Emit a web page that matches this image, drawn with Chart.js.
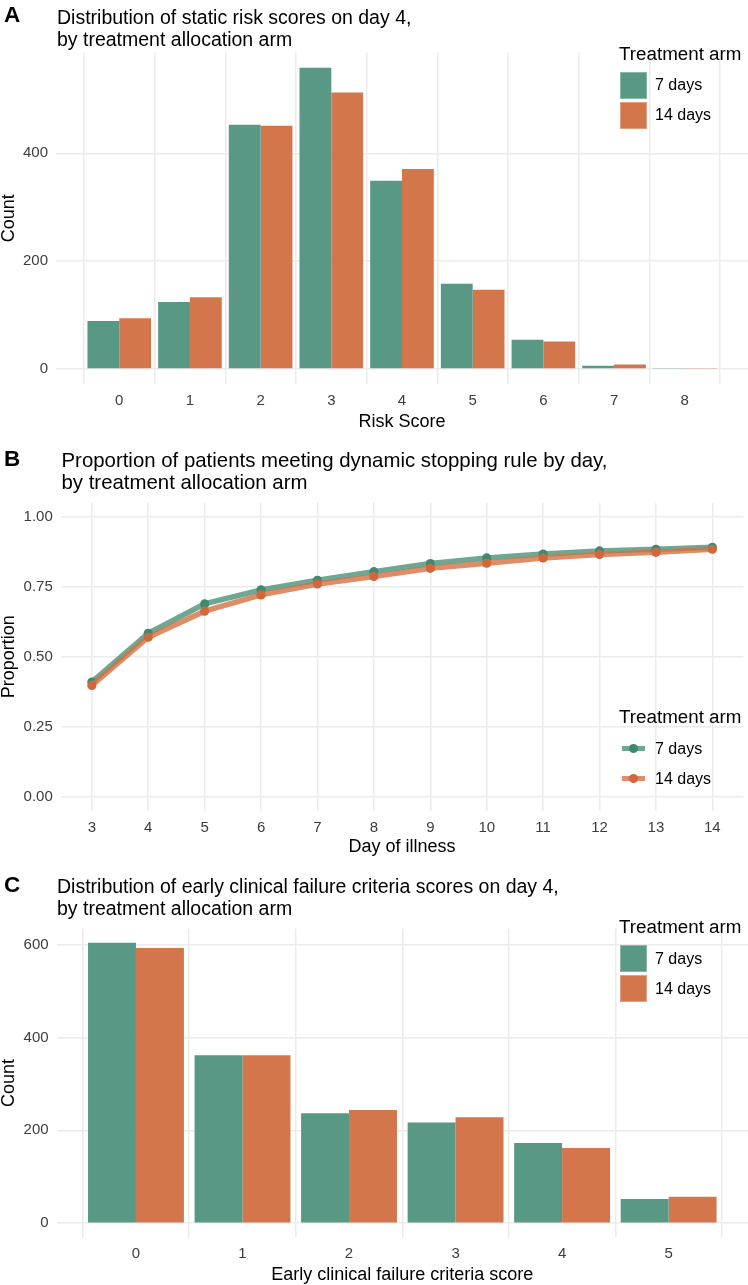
<!DOCTYPE html>
<html>
<head>
<meta charset="utf-8">
<script src="https://cdn.jsdelivr.net/npm/chart.js@4.4.1/dist/chart.umd.min.js"></script>
<style>
  html, body { margin: 0; padding: 0; background: #fff; }
  body { width: 748px; height: 1285px; position: relative; overflow: hidden;
         font-family: "Liberation Sans", Arial, sans-serif; color: #000; }
  .panel { position: absolute; left: 0; width: 748px; }
  .txt { position: absolute; white-space: nowrap; line-height: 1; }
  .letter { font-weight: bold; }
  .swatch { position: absolute; width: 27px; height: 27px; box-sizing: border-box; }
  .lkey { position: absolute; width: 23px; height: 5px; }
  .ldot { position: absolute; width: 9px; height: 9px; border-radius: 50%; }
</style>
</head>
<body>
<div class="panel" id="wrapA" style="top:0;height:440px"><canvas id="chartA"></canvas></div>
<div class="panel" id="wrapB" style="top:440px;height:420px"><canvas id="chartB"></canvas></div>
<div class="panel" id="wrapC" style="top:860px;height:425px"><canvas id="chartC"></canvas></div>
<div id="texts"></div>
<script>
/* ---------------- data ---------------- */
// A: static risk score on day 4
var riskScores = [0, 1, 2, 3, 4, 5, 6, 7, 8];
var risk7 = [89, 124, 453, 559, 349, 158, 54, 6, 1];
var risk14 = [94, 133, 451, 513, 371, 147, 51, 8, 1];
var riskYTicks = [0, 200, 400];

// B: proportion meeting dynamic stopping rule
var days = [3, 4, 5, 6, 7, 8, 9, 10, 11, 12, 13, 14];
var prop7 = [0.410, 0.584, 0.689, 0.739, 0.773, 0.804, 0.833, 0.853, 0.867, 0.878, 0.884, 0.891];
var prop14 = [0.398, 0.570, 0.663, 0.721, 0.760, 0.787, 0.816, 0.834, 0.853, 0.865, 0.873, 0.884];
var propYTicks = [0, 0.25, 0.5, 0.75, 1];

// C: early clinical failure criteria score on day 4
var failScores = [0, 1, 2, 3, 4, 5];
var fail7 = [604, 362, 237, 217, 173, 52];
var fail14 = [593, 362, 244, 228, 162, 57];
var failYTicks = [0, 200, 400, 600];

var armLabels = ['7 days', '14 days'];

/* ---------------- styles ---------------- */
var GREEN = '#589884', ORANGE = '#d4764c';
var GREEN_PT = '#3f8a6f', ORANGE_PT = '#d0683b';
var GREEN_LN = 'rgba(74,145,119,0.8)', ORANGE_LN = 'rgba(214,112,66,0.8)';
var GRID = '#ebebeb';
var TICK = '#3d3d3d';
var FONT = '"Liberation Sans", Arial, sans-serif';

// ggplot-like 5% expansion
function expand(lo, hi) {
    var d = (hi - lo) * 0.05;
    return [lo - d, hi + d];
}
function xy(xs, ys) {
    return xs.map(function (x, i) { return {x: x, y: ys[i]}; });
}

function axes(o) {
    return {
        x: {
            type: 'linear', min: o.x[0], max: o.x[1], offset: false,
            grid: {color: GRID, lineWidth: 1.5, drawTicks: false},
            border: {display: false},
            ticks: {font: {family: FONT, size: 15}, color: TICK, padding: 8, autoSkip: false, maxRotation: 0},
            afterBuildTicks: function (s) { s.ticks = o.xTicks.map(function (v) { return {value: v}; }); },
            afterFit: function (s) { s.height = o.xh; },
            title: {display: true, text: o.xTitle, color: '#000', font: {family: FONT, size: 18, lineHeight: 1},
                    padding: {top: 0, bottom: o.xtp}}
        },
        y: {
            type: 'linear', min: o.y[0], max: o.y[1],
            grid: {color: GRID, lineWidth: 1.5, drawTicks: false},
            border: {display: false},
            ticks: {font: {family: FONT, size: 15}, color: TICK, padding: 8,
                    callback: o.fmt || function (v) { return v; }},
            afterBuildTicks: function (s) { s.ticks = o.yTicks.map(function (v) { return {value: v}; }); },
            afterFit: function (s) { s.width = o.yw; },
            title: {display: true, text: o.yTitle, color: '#000', font: {family: FONT, size: 18, lineHeight: 1},
                    padding: {top: 0, bottom: 0}}
        }
    };
}

var common = {
    responsive: true, maintainAspectRatio: false, animation: false,
    plugins: {legend: {display: false}, tooltip: {enabled: false}}
};

function barChart(id, xs, a, b, yTicks, o) {
    var cfg = {
        type: 'bar',
        data: {
            datasets: [
                {label: armLabels[0], data: xy(xs, a), backgroundColor: GREEN, borderWidth: 0, minBarLength: 1},
                {label: armLabels[1], data: xy(xs, b), backgroundColor: ORANGE, borderWidth: 0, minBarLength: 1}
            ]
        },
        options: Object.assign({}, common, {
            categoryPercentage: 0.9, barPercentage: 1,
            layout: {padding: {top: o.top, left: 0, right: 0, bottom: 0}},
            scales: axes({
                x: expand(xs[0] - 0.45, xs[xs.length - 1] + 0.45), xTicks: xs,
                y: expand(0, Math.max.apply(null, a.concat(b))), yTicks: yTicks,
                xTitle: o.xTitle, yTitle: 'Count', xh: o.xh, yw: o.yw, xtp: o.xtp
            })
        })
    };
    return new Chart(document.getElementById(id), cfg);
}

barChart('chartA', riskScores, risk7, risk14, riskYTicks,
    {top: 52.6, xh: 56, yw: 56, xtp: 9.3, xTitle: 'Risk Score'});

new Chart(document.getElementById('chartB'), {
    type: 'line',
    data: {
        datasets: [
            {label: armLabels[0], data: xy(days, prop7), borderColor: GREEN_LN, borderWidth: 5.5,
             pointRadius: 4.6, pointBackgroundColor: GREEN_PT, pointBorderWidth: 0, order: 1, tension: 0},
            {label: armLabels[1], data: xy(days, prop14), borderColor: ORANGE_LN, borderWidth: 5.5,
             pointRadius: 4.6, pointBackgroundColor: ORANGE_PT, pointBorderWidth: 0, order: 0, tension: 0}
        ]
    },
    options: Object.assign({}, common, {
        layout: {padding: {top: 62.7, left: 0, right: 0, bottom: 0}},
        scales: axes({
            x: expand(days[0], days[days.length - 1]), xTicks: days,
            y: expand(0, 1), yTicks: propYTicks,
            xTitle: 'Day of illness', yTitle: 'Proportion', xh: 49, yw: 60.8, xtp: 4,
            fmt: function (v) { return v.toFixed(2); }
        })
    })
});

barChart('chartC', failScores, fail7, fail14, failYTicks,
    {top: 68.8, xh: 47.8, yw: 56.6, xtp: 1, xTitle: 'Early clinical failure criteria score'});

/* ---------------- titles and legends (HTML text) ---------------- */
var box = document.getElementById('texts');
function text(str, x, baseline, size, cls) {
    var d = document.createElement('div');
    d.className = 'txt' + (cls ? ' ' + cls : '');
    d.textContent = str;
    d.style.fontSize = size + 'px';
    d.style.left = x + 'px';
    d.style.top = (baseline - 0.8465 * size) + 'px';
    box.appendChild(d);
    return d;
}
function el(cls, css) {
    var d = document.createElement('div');
    d.className = cls;
    Object.assign(d.style, css);
    box.appendChild(d);
    return d;
}

var panels = [
    {letter: 'A', lb: 23, tx: 57, tb: 25, ts: 19.5,
     title: ['Distribution of static risk scores on day 4,', 'by treatment allocation arm'], legB: 60.7, kind: 'bar'},
    {letter: 'B', lb: 467, tx: 61.5, tb: 467.3, ts: 20.4,
     title: ['Proportion of patients meeting dynamic stopping rule by day,', 'by treatment allocation arm'], legB: 724, kind: 'line'},
    {letter: 'C', lb: 893, tx: 57, tb: 893.3, ts: 19.5,
     title: ['Distribution of early clinical failure criteria scores on day 4,', 'by treatment allocation arm'], legB: 934, kind: 'bar'}
];
var fills = [GREEN, ORANGE], dots = [GREEN_PT, ORANGE_PT], lines = [GREEN_LN, ORANGE_LN];

panels.forEach(function (p) {
    text(p.letter, 4, p.lb, 22.5, 'letter');
    p.title.forEach(function (t, i) { text(t, p.tx, p.tb + i * 21.8, p.ts); });
    text('Treatment arm', 619, p.legB, 18.8);
    armLabels.forEach(function (lab, i) {
        var cy = p.legB + 24.6 + i * 30;
        if (p.kind === 'bar') {
            el('swatch', {left: '619.5px', top: (cy - 13.5) + 'px', background: fills[i],
                          border: '1px solid rgba(255,255,255,0.3)'});
        } else {
            el('lkey', {left: '622px', top: (cy - 2.5) + 'px', background: lines[i]});
            el('ldot', {left: '629px', top: (cy - 4.5) + 'px', background: dots[i]});
        }
        text(lab, 655, cy + 5.7, 16);
    });
});
</script>
</body>
</html>
